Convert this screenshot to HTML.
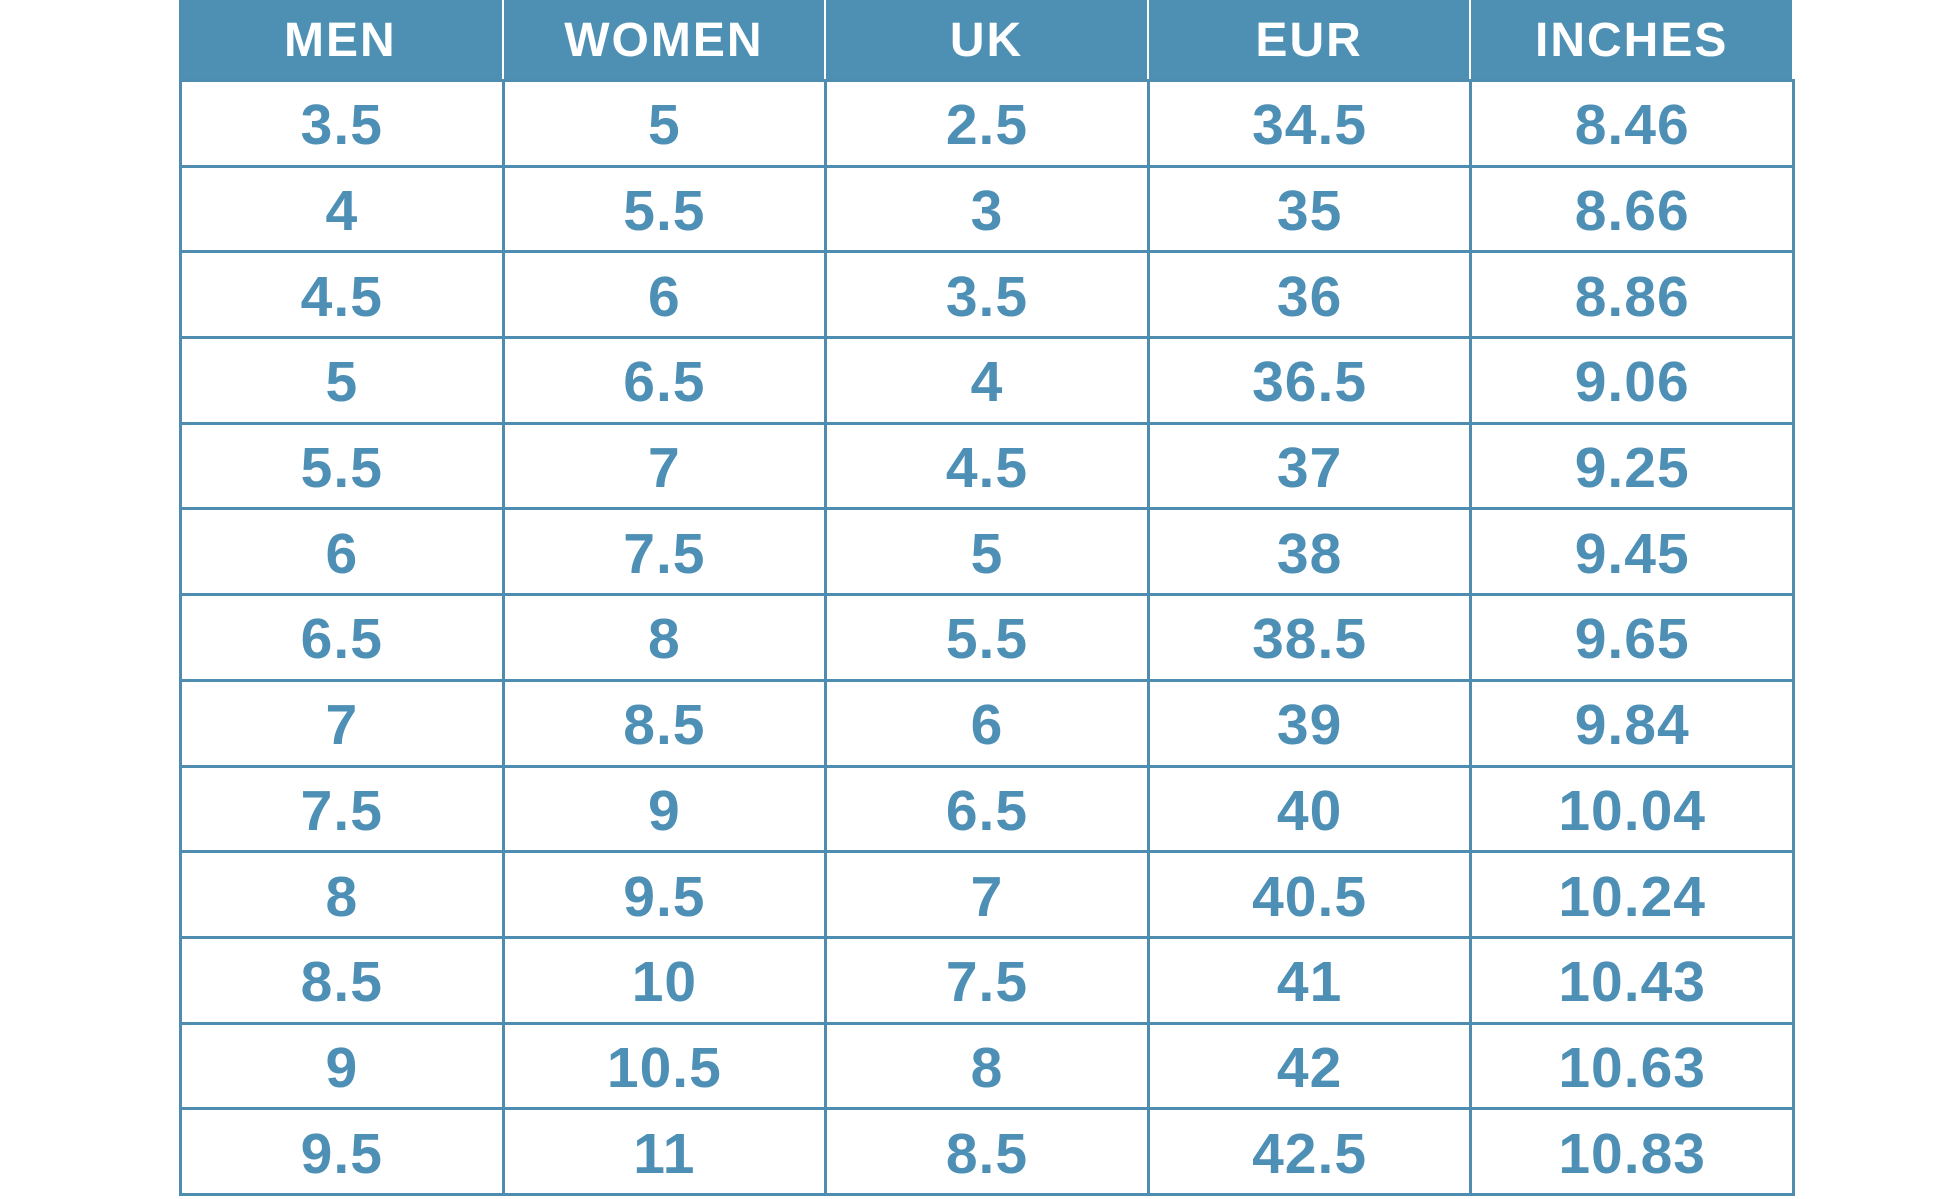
<!DOCTYPE html>
<html><head><style>
html,body{margin:0;padding:0;background:#fff;width:1946px;height:1199px;overflow:hidden;position:relative}
.c{position:absolute;box-sizing:border-box;display:flex;align-items:center;justify-content:center;font-family:"Liberation Sans",sans-serif;font-weight:bold}
.h{background:#4e90b4;color:#fff;font-size:48px;letter-spacing:2px;height:80px;top:0}
.d{color:#4d8fb5;font-size:57px;letter-spacing:1px;border:3px solid #4e8cb0;padding-top:4px}
</style></head><body>
<div id="t"></div>
<script>
var cols=["MEN","WOMEN","UK","EUR","INCHES"];
var data=[["3.5","5","2.5","34.5","8.46"],["4","5.5","3","35","8.66"],["4.5","6","3.5","36","8.86"],["5","6.5","4","36.5","9.06"],["5.5","7","4.5","37","9.25"],["6","7.5","5","38","9.45"],["6.5","8","5.5","38.5","9.65"],["7","8.5","6","39","9.84"],["7.5","9","6.5","40","10.04"],["8","9.5","7","40.5","10.24"],["8.5","10","7.5","41","10.43"],["9","10.5","8","42","10.63"],["9.5","11","8.5","42.5","10.83"]];
var L=179,W=322.6,T=79,H=(1194-80)/13,s="";
for(var j=0;j<5;j++){s+='<div class="c h" style="left:'+(L+j*W+(j?2:0))+'px;width:'+(W-(j?2:0))+'px">'+cols[j]+'</div>';}
for(var i=0;i<13;i++)for(var j=0;j<5;j++){
s+='<div class="c d" style="left:'+(L+j*W)+'px;top:'+(T+i*H)+'px;width:'+(W+3)+'px;height:'+(H+3)+'px">'+data[i][j]+'</div>';}
document.getElementById("t").innerHTML=s;
</script>
</body></html>
